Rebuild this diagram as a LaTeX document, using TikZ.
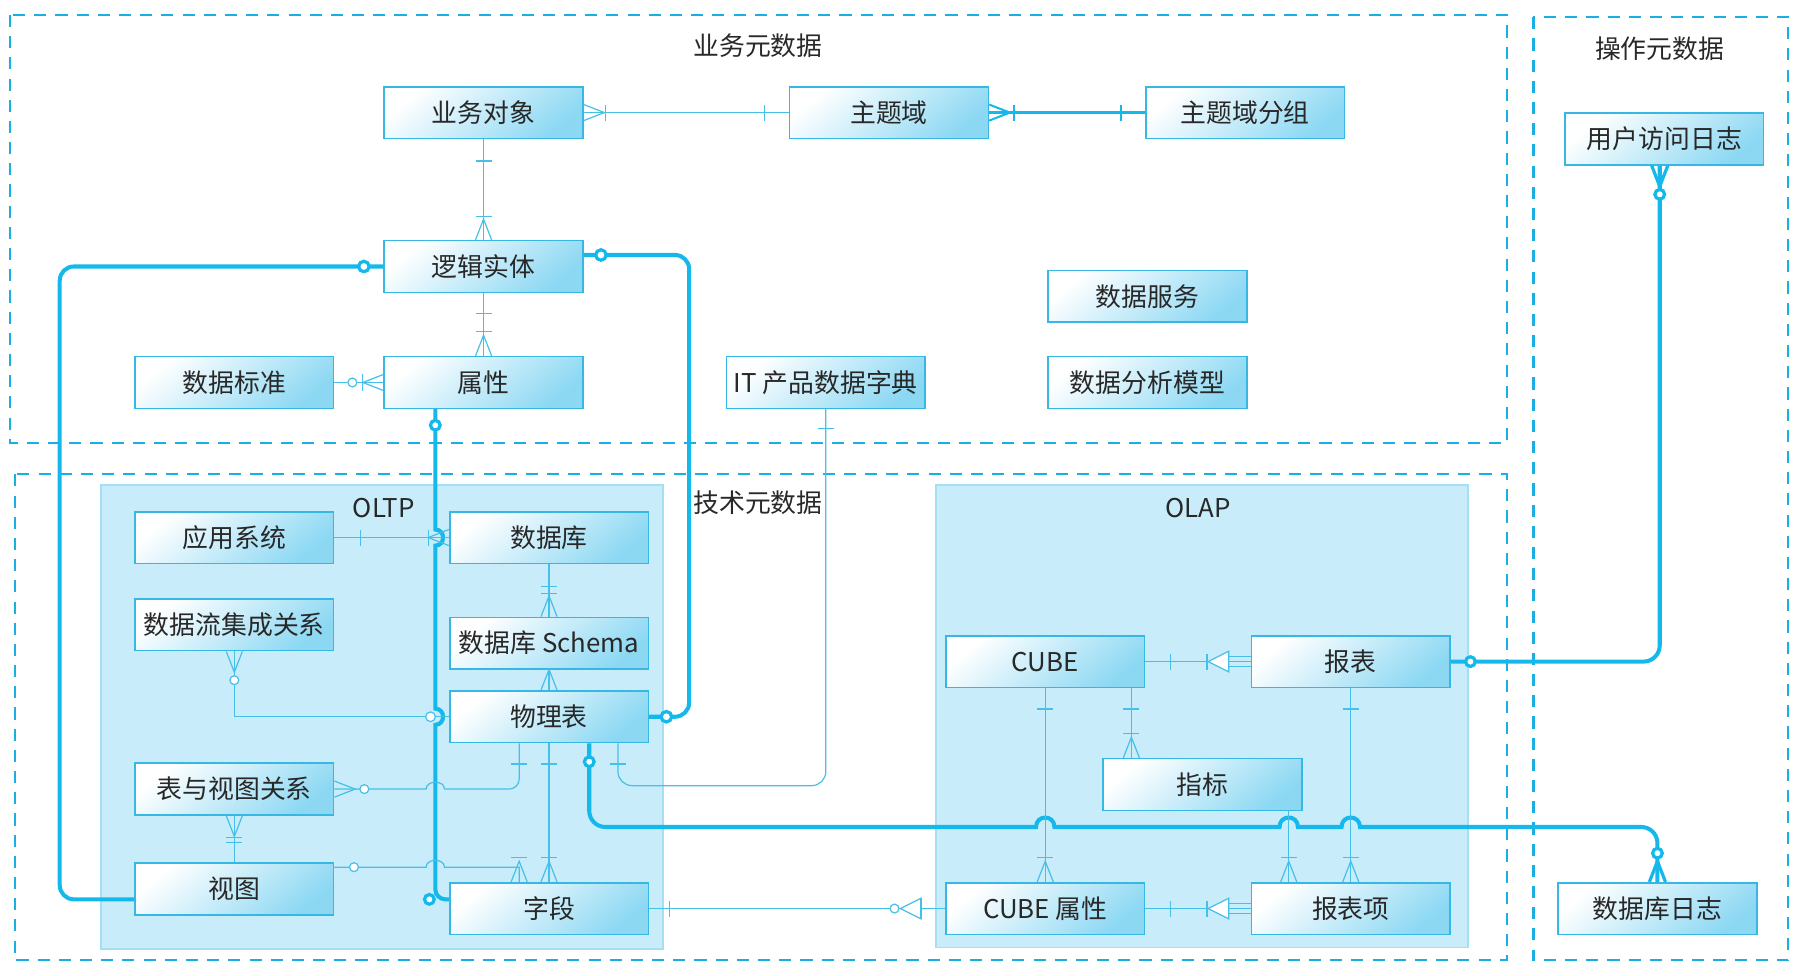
\documentclass[tikz,border=0pt]{standalone}
\usepackage{fontspec}
\setmainfont{Noto Sans CJK SC}
\usetikzlibrary{calc}
\definecolor{framec}{RGB}{27,174,228}
\definecolor{thickc}{RGB}{20,184,234}
\definecolor{thinc}{RGB}{70,192,232}
\definecolor{entc}{RGB}{55,184,228}
\definecolor{entfill}{RGB}{140,216,243}
\definecolor{areac}{RGB}{200,236,249}
\definecolor{areaedge}{RGB}{165,223,244}
\definecolor{txtc}{RGB}{40,40,40}
\tikzset{
  crow/.pic={\draw (0,-7) -- (-18,0) -- (0,7);},
  onebar/.pic={\draw (0,-7) -- (0,7);},
  opentri/.pic={\draw[fill=white] (-39,0) -- (-21,-9) -- (-21,9) -- cycle; \draw (-21,-9) -- (-21,9);},
  fork/.pic={\draw[fill=white] (-37,0) -- (-19,-9) -- (-19,9) -- cycle; \draw (-19,-4.5) -- (0,-4.5) (-19,4.5) -- (0,4.5); \draw (-38,-7) -- (-38,7);}
}
\begin{document}
\begin{tikzpicture}[x=0.02cm, y=-0.02cm,
  every node/.style={font=\fontsize{12.8}{15}\selectfont, text=txtc},
  entity/.style={draw=entc, line width=0.8pt, top color=white, bottom color=entfill, shading angle=40, minimum width=3.46cm, minimum height=0.9cm, inner sep=0pt},
  region/.style={fill=areac, draw=areaedge, line width=0.8pt},
  metabox/.style={draw=framec, line width=1pt, dash pattern=on 6pt off 4.5pt},
  lnthin/.style={draw=thinc, line width=0.6pt},
  lnmid/.style={draw=thickc, line width=1.2pt},
  lnthick/.style={draw=thickc, line width=2pt},
  mk/.style={color=thinc, line width=0.6pt},
  mkmid/.style={color=thickc, line width=1pt},
  mkk/.style={color=thickc, line width=1.6pt}]
\useasboundingbox (0,0) rectangle (1568,849);
\draw[region] (88,422) rectangle (577,826);
\draw[region] (815,422) rectangle (1278,825);
\draw[metabox] (9,13) rectangle (1312,386);
\draw[metabox] (13,413) rectangle (1312,836);
\draw[metabox] (1335,15) rectangle (1557,836);
\draw[metabox, line width=1.7pt] (1335,15) -- (1335,836);
\node (tbiz) at (660,40) {业务元数据};
\node (tops) at (1445,42) {操作元数据};
\node (ttech) at (660,438) {技术元数据};
\node (toltp) at (334,442) {OLTP};
\node (tolap) at (1043,442) {OLAP};
\node[entity] (bizobj) at (421,98) {业务对象};
\node[entity] (subject) at (774,98) {主题域};
\node[entity] (subjgrp) at (1084,98) {主题域分组};
\node[entity] (logent) at (421,232) {逻辑实体};
\node[entity] (attr) at (421,333) {属性};
\node[entity] (stdz) at (204,333) {数据标准};
\node[entity] (itdict) at (719,333) {IT 产品数据字典};
\node[entity] (dsvc) at (999,258) {数据服务};
\node[entity] (amodel) at (999,333) {数据分析模型};
\node[entity] (useraccess) at (1449,121) {用户访问日志};
\node[entity] (appsys) at (204,468) {应用系统};
\node[entity] (db) at (478,468) {数据库};
\node[entity] (dataflow) at (204,544) {数据流集成关系};
\node[entity] (schema) at (478,560) {数据库 Schema};
\node[entity] (ptable) at (478,624) {物理表};
\node[entity] (tvrel) at (204,687) {表与视图关系};
\node[entity] (view) at (204,774) {视图};
\node[entity] (field) at (478,791) {字段};
\node[entity] (cube) at (910,576) {CUBE};
\node[entity] (report) at (1176,576) {报表};
\node[entity] (metric) at (1047,683) {指标};
\node[entity] (cubeattr) at (910,791) {CUBE 属性};
\node[entity] (ritem) at (1176,791) {报表项};
\node[entity] (dblog) at (1443,791) {数据库日志};
\draw[lnthin] (bizobj.east) -- (subject.west);
\pic[mk, rotate=180] at (bizobj.east) {crow};
\pic[mk] at ($(bizobj.east)+(19,0)$) {onebar};
\pic[mk] at ($(subject.west)+(-21,0)$) {onebar};
\draw[lnmid] (subject.east) -- (subjgrp.west);
\pic[mkmid, rotate=180] at (subject.east) {crow};
\pic[mkmid] at ($(subject.east)+(22,0)$) {onebar};
\pic[mkmid] at ($(subjgrp.west)+(-21,0)$) {onebar};
\draw[lnthin] (bizobj) -- (logent);
\pic[mk, rotate=90] at ($(bizobj.south)+(0,19)$) {onebar};
\pic[mk, rotate=-90] at (logent.north) {crow};
\pic[mk, rotate=90] at ($(logent.north)+(0,-20)$) {onebar};
\draw[lnthin] (logent) -- (attr);
\pic[mk, rotate=90] at ($(logent.south)+(0,18)$) {onebar};
\pic[mk, rotate=-90] at (attr.north) {crow};
\pic[mk, rotate=90] at ($(attr.north)+(0,-21)$) {onebar};
\draw[lnthin] (attr.west) -- (stdz.east);
\pic[mk] at (attr.west) {crow};
\pic[mk] at ($(attr.west)+(-18,0)$) {onebar};
\draw[mk, fill=white] ($(attr.west)+(-27,0)$) circle (2.2pt);
\draw[lnthick, rounded corners=7pt] (logent.west) -- (52,232) |- ($(view.west)+(0,9)$);
\draw[mkk, fill=white] ($(logent.west)+(-17,0)$) circle (2.6pt);
\draw[lnthick, rounded corners=7pt] ($(logent.east)+(0,-10)$) -- (600,222) |- (ptable.east);
\draw[mkk, fill=white] ($(logent.east)+(15,-10)$) circle (2.6pt);
\draw[mkk, fill=white] ($(ptable.east)+(15,0)$) circle (2.6pt);
\draw[lnthick] ($(attr.south)+(-42,0)$) -- (379,461) .. controls (388,461) and (388,475) .. (379,475) -- (379,617) .. controls (388,617) and (388,631) .. (379,631) [rounded corners=5pt] -- (379,783) -- ($(field.west)+(0,-8)$);
\draw[mkk, fill=white] ($(attr.south)+(-42,14)$) circle (2.4pt);
\draw[mkk, fill=white] ($(field.west)+(-17,-8)$) circle (2.4pt);
\draw[lnthin] (appsys.east) -- (db.west);
\pic[mk] at ($(appsys.east)+(23,0)$) {onebar};
\pic[mk] at (db.west) {crow};
\pic[mk] at ($(db.west)+(-18,0)$) {onebar};
\draw[lnthin] (db) -- (schema);
\pic[mk, rotate=-90] at (schema.north) {crow};
\pic[mk, rotate=90] at ($(schema.north)+(0,-20)$) {onebar};
\pic[mk, rotate=90] at ($(schema.north)+(0,-26)$) {onebar};
\draw[lnthin] (schema) -- (ptable);
\pic[mk, rotate=-90] at (ptable.north) {crow};
\draw[lnthin] (dataflow.south) |- (ptable.west);
\pic[mk, rotate=90] at (dataflow.south) {crow};
\draw[mk, fill=white] ($(dataflow.south)+(0,25)$) circle (2.2pt);
\draw[mk, fill=white] ($(ptable.west)+(-16,0)$) circle (2.4pt);
\draw[lnthin] (tvrel.east) -- (371,687) .. controls (371,679) and (387,679) .. (387,687) -- (400,687) [rounded corners=5pt] -- (452,687) -- ($(ptable.south)+(-26,0)$);
\pic[mk, rotate=180] at (tvrel.east) {crow};
\draw[mk, fill=white] ($(tvrel.east)+(26,0)$) circle (2.2pt);
\pic[mk, rotate=90] at ($(ptable.south)+(-26,18)$) {onebar};
\draw[lnthin] (tvrel) -- (view);
\pic[mk, rotate=90] at (tvrel.south) {crow};
\pic[mk, rotate=90] at ($(tvrel.south)+(0,19)$) {onebar};
\pic[mk, rotate=90] at ($(tvrel.south)+(0,23)$) {onebar};
\draw[lnthin] ($(view.east)+(0,-19)$) -- (371,755) .. controls (371,747) and (387,747) .. (387,755) -- (452,755) -- ($(field.north)+(-26,0)$);
\draw[mk, fill=white] ($(view.east)+(17,-19)$) circle (2.2pt);
\pic[mk, rotate=-90] at ($(field.north)+(-26,0)$) {crow};
\pic[mk, rotate=90] at ($(field.north)+(-26,-21)$) {onebar};
\draw[lnthin] (ptable) -- (field);
\pic[mk, rotate=90] at ($(ptable.south)+(0,18)$) {onebar};
\pic[mk, rotate=-90] at (field.north) {crow};
\pic[mk, rotate=90] at ($(field.north)+(0,-21)$) {onebar};
\draw[lnthin, rounded corners=7pt] ($(ptable.south)+(60,0)$) -- (538,684) -- (719,684) -- (itdict.south);
\pic[mk, rotate=90] at ($(ptable.south)+(60,18)$) {onebar};
\pic[mk, rotate=90] at ($(itdict.south)+(0,17)$) {onebar};
\draw[lnthick] ($(ptable.south)+(35,0)$) [rounded corners=8pt] -- (513,720) -- (600,720) [sharp corners] -- (902,720) .. controls (902,709) and (918,709) .. (918,720) -- (1114,720) .. controls (1114,709) and (1130,709) .. (1130,720) -- (1168,720) .. controls (1168,709) and (1184,709) .. (1184,720) -- (1300,720) [rounded corners=8pt] -- (1443,720) -- (dblog.north);
\draw[mkk, fill=white] ($(ptable.south)+(35,16)$) circle (2.4pt);
\draw[mkk, fill=white] ($(dblog.north)+(0,-25)$) circle (2.4pt);
\pic[mkk, rotate=-90] at (dblog.north) {crow};
\draw[lnthin] (field.east) -- (cubeattr.west);
\pic[mk] at ($(field.east)+(18,0)$) {onebar};
\pic[mk] at (cubeattr.west) {opentri};
\draw[mk, fill=white] ($(cubeattr.west)+(-44,0)$) circle (2.2pt);
\draw[lnthin] (cube.east) -- (report.west);
\pic[mk] at ($(cube.east)+(22,0)$) {onebar};
\pic[mk] at (report.west) {fork};
\draw[lnthin] (cubeattr.east) -- (ritem.west);
\pic[mk] at ($(cubeattr.east)+(22,0)$) {onebar};
\pic[mk] at (ritem.west) {fork};
\draw[lnthin] (cube) -- (cubeattr);
\pic[mk, rotate=90] at ($(cube.south)+(0,18)$) {onebar};
\pic[mk, rotate=-90] at (cubeattr.north) {crow};
\pic[mk, rotate=90] at ($(cubeattr.north)+(0,-21)$) {onebar};
\draw[lnthin] ($(cube.south)+(75,0)$) -- ($(metric.north)+(-62,0)$);
\pic[mk, rotate=90] at ($(cube.south)+(75,18)$) {onebar};
\pic[mk, rotate=-90] at ($(metric.north)+(-62,0)$) {crow};
\pic[mk, rotate=90] at ($(metric.north)+(-62,-21)$) {onebar};
\draw[lnthin] ($(metric.south)+(75,0)$) -- ($(ritem.north)+(-54,0)$);
\pic[mk, rotate=-90] at ($(ritem.north)+(-54,0)$) {crow};
\pic[mk, rotate=90] at ($(ritem.north)+(-54,-21)$) {onebar};
\draw[lnthin] (report) -- (ritem);
\pic[mk, rotate=90] at ($(report.south)+(0,18)$) {onebar};
\pic[mk, rotate=-90] at (ritem.north) {crow};
\pic[mk, rotate=90] at ($(ritem.north)+(0,-21)$) {onebar};
\draw[lnthick, rounded corners=8pt] (report.east) -- (1445,576) -- ($(useraccess.south)+(-4,0)$);
\draw[mkk, fill=white] ($(report.east)+(17,0)$) circle (2.4pt);
\draw[mkk, fill=white] ($(useraccess.south)+(-4,25)$) circle (2.4pt);
\pic[mkk, rotate=90] at ($(useraccess.south)+(-4,0)$) {crow};
\end{tikzpicture}
\end{document}
